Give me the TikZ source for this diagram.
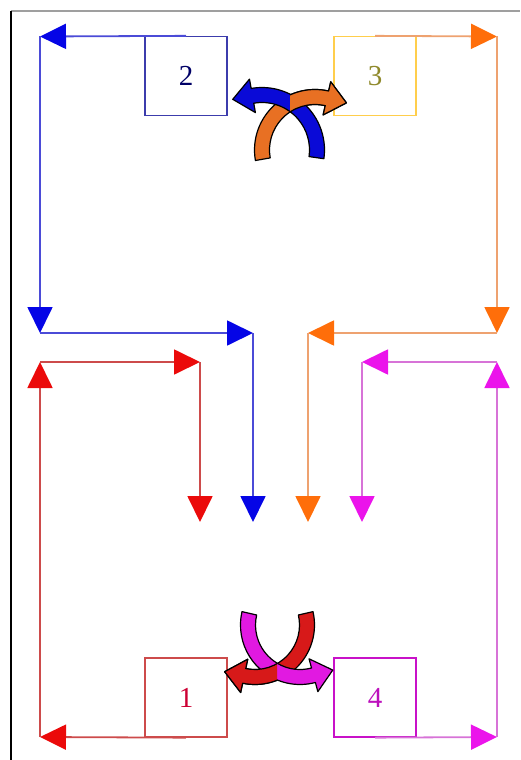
\documentclass[tikz,border=0pt]{standalone}
\usepackage{fontspec}
\setmainfont{Liberation Serif}
\usetikzlibrary{arrows.meta}

\definecolor{headblue}{RGB}{5,5,230}
\definecolor{lineblue}{RGB}{75,75,215}
\definecolor{headorange}{RGB}{255,110,10}
\definecolor{lineorange}{RGB}{238,162,112}
\definecolor{headred}{RGB}{235,10,10}
\definecolor{linered}{RGB}{205,75,75}
\definecolor{headmag}{RGB}{235,20,235}
\definecolor{linemag}{RGB}{215,115,215}
\definecolor{fatblue}{RGB}{10,10,215}
\definecolor{fatorange}{RGB}{232,112,35}
\definecolor{fatred}{RGB}{215,25,25}
\definecolor{fatmag}{RGB}{225,25,225}

\tikzset{
  box/.style={draw, line width=1.3pt, minimum width=82pt, minimum height=79pt,
    inner sep=0pt, font=\fontsize{29}{29}\selectfont},
  flow/.style={line width=1.8pt, -{Triangle[length=26pt,width=25pt,color=#1]}},
}

% fat curved arrow: colour, centre, radius, start angle, end angle
\newcommand\fatarc[5]{%
  \pgfmathsetmacro\ro{#3+7.5}\pgfmathsetmacro\ri{#3-7.5}%
  \pgfmathsetmacro\hro{#3+17}\pgfmathsetmacro\hri{#3-17}%
  \pgfmathsetmacro\ta{#5+((#5>#4)?1:-1)*atan(20/#3)}%
  \pgfmathsetmacro\tr{sqrt(#3*#3+400)}%
  \filldraw[fill=#1, draw=black, line width=1.2pt, line join=round, shift={#2}, yscale=-1]
    (#4:\ro) arc[start angle=#4, end angle=#5, radius=\ro]
    -- (#5:\hro) -- (\ta:\tr) -- (#5:\hri) -- (#5:\ri)
    arc[start angle=#5, end angle=#4, radius=\ri] -- cycle;}

\begin{document}
\begin{tikzpicture}[x=1pt,y=-1pt]
  \useasboundingbox (0,0) rectangle (520,760);
  \draw[gray!75, line width=1.5pt] (11,11) -- (520,11);
  \draw[black, line width=1.5pt] (11,11) -- (11,760);

  \node[box, draw=lineblue!80!black, text=blue!40!black] (b2) at (186,76) {2};
  \node[box, draw=orange!55!yellow!70, text=olive!70!gray] (b3) at (375,76) {3};
  \node[box, draw=linered, text=purple!80!red] (b1) at (186,697.5) {1};
  \node[box, draw=headmag!85!black, text=headmag!80!black] (b4) at (375,697.5) {4};

  \coordinate (tl) at (40,36.5);  \coordinate (bl) at (40,333);
  \coordinate (br) at (253,333);  \coordinate (be) at (253,522);
  \coordinate (tr) at (497,36.5); \coordinate (or) at (497,333);
  \coordinate (ol) at (308,333);  \coordinate (oe) at (308,522);
  \coordinate (rb) at (40,737);   \coordinate (rt) at (40,362);
  \coordinate (rr) at (200,362);  \coordinate (re) at (200,522);
  \coordinate (mb) at (497,737);  \coordinate (mt) at (497,362);
  \coordinate (ml) at (362,362);  \coordinate (me) at (362,522);

  \draw[flow=headblue, lineblue] (b2.north) -- (tl);
  \draw[flow=headblue, lineblue] (tl) -- (bl);
  \draw[flow=headblue, lineblue] (bl) -- (br);
  \draw[flow=headblue, lineblue] (br) -- (be);

  \draw[flow=headorange, lineorange] (b3.north) -- (tr);
  \draw[flow=headorange, lineorange] (tr) -- (or);
  \draw[flow=headorange, lineorange] (or) -- (ol);
  \draw[flow=headorange, lineorange] (ol) -- (oe);

  \draw[flow=headred, linered] (b1.south) -- (rb);
  \draw[flow=headred, linered] (rb) -- (rt);
  \draw[flow=headred, linered] (rt) -- (rr);
  \draw[flow=headred, linered] (rr) -- (re);

  \draw[flow=headmag, linemag] (b4.south) -- (mb);
  \draw[flow=headmag, linemag] (mb) -- (mt);
  \draw[flow=headmag, linemag] (mt) -- (ml);
  \draw[flow=headmag, linemag] (ml) -- (me);

  \fatarc{fatorange}{(315,150)}{53}{190}{77}
  \fatarc{fatblue}{(262,150)}{55}{-8}{100}
  \begin{scope}
    \clip (290,60) rectangle (380,130);
    \fatarc{fatorange}{(315,150)}{53}{190}{77}
  \end{scope}

  \fatarc{fatred}{(255,625)}{52}{13}{-102}
  \fatarc{fatmag}{(300,625)}{52}{167}{285}
  \begin{scope}
    \clip (200,650) rectangle (277,700);
    \fatarc{fatred}{(255,625)}{52}{13}{-102}
  \end{scope}
\end{tikzpicture}
\end{document}
